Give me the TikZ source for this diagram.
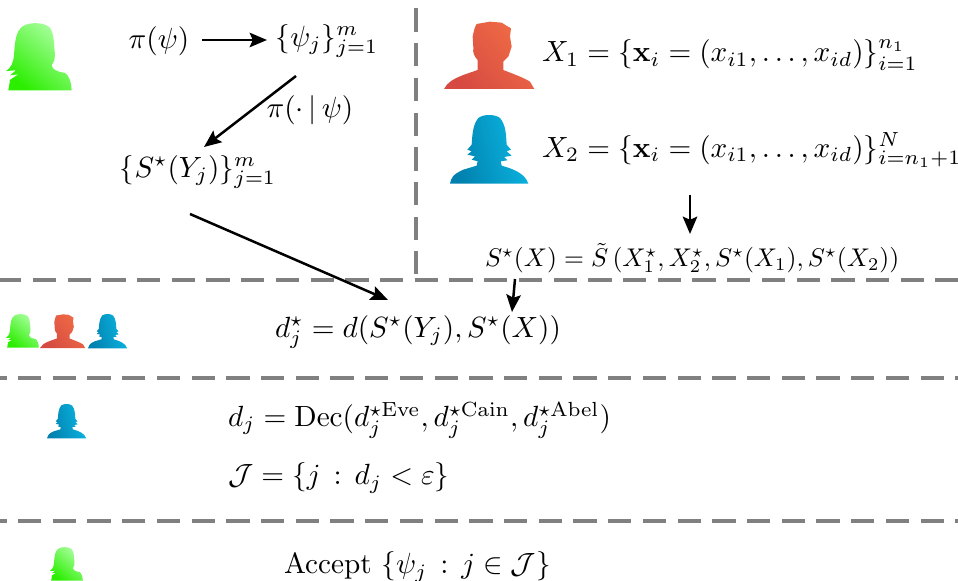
\documentclass[tikz,border=0pt]{standalone}
\usetikzlibrary{arrows.meta,calc}
\usepackage{amssymb}
\newcommand{\pathgreen}{(7,202) -- (12,172) -- (32,164) -- (10,172) -- (37,154) -- (12,157) -- (30,142) -- (0,144) .. controls (15,135) and (22,120) .. (24,95) .. controls (27,60) and (28,25) .. (50,10) .. controls (70,-3) and (110,-3) .. (130,12) .. controls (145,30) and (143,60) .. (147,95) -- (145,112) -- (137,127) .. controls (140,140) and (150,145) .. (177,150) .. controls (188,155) and (197,180) .. (197,202) -- cycle}
\newcommand{\pathorange}{(0,204) .. controls (10,185) and (25,175) .. (58,162) -- (101,147) -- (101,117) .. controls (90,105) and (86,95) .. (88,80) -- (86,47) .. controls (90,25) and (95,12) .. (98,9) -- (115,6) -- (138,2) -- (173,5) -- (184,12) -- (201,22) -- (198,47) -- (203,77) -- (193,107) -- (178,122) -- (178,147) .. controls (205,158) and (240,170) .. (258,182) -- (271,204) -- cycle}
\newcommand{\pathblue}{(0,206) .. controls (3,190) and (8,178) .. (40,164) -- (80,152) -- (83,139) -- (65,134) -- (75,124) -- (52,119) -- (65,109) -- (52,104) -- (65,89) .. controls (67,60) and (68,30) .. (85,9) .. controls (100,-3) and (135,-3) .. (150,9) .. controls (168,30) and (168,60) .. (170,89) -- (183,104) -- (170,109) -- (185,122) -- (162,126) -- (172,136) -- (152,139) -- (155,152) .. controls (190,162) and (225,175) .. (235,206) -- cycle}
\definecolor{oC1}{HTML}{F06C45}
\definecolor{oC2}{HTML}{D64A42}
\definecolor{bC1}{HTML}{0CB6E2}
\definecolor{bC2}{HTML}{0080AE}
\definecolor{sepC}{HTML}{808080}
\definecolor{gC1}{HTML}{ACFFA2}
\definecolor{gC2}{HTML}{2BEE00}
\tikzset{
  gfill/.style={left color=gC1, right color=gC2, shading angle=-40, draw=none},
  ofill/.style={left color=oC1, right color=oC2, shading angle=-50, draw=none},
  bfill/.style={left color=bC1, right color=bC2, shading angle=-75, draw=none},
  sep/.style={draw=sepC, line width=1.65pt, dash pattern=on 12.1pt off 5.95pt},
  arr/.style={-{Stealth[length=9pt,width=7.5pt,inset=1.6pt]}, line width=1.3pt},
  lab/.style={inner sep=0pt, outer sep=0pt, scale=1.52},
  lableft/.style={lab, anchor=west}
}
\newcommand{\personG}[3]{\begin{scope}[shift={(#1,#2)},x=#3*0.52pt,y=-#3*0.52pt]\shade[gfill] \pathgreen;\end{scope}}
\newcommand{\personO}[3]{\begin{scope}[shift={(#1,#2)},x=#3*0.52pt,y=-#3*0.52pt]\shade[ofill] \pathorange;\end{scope}}
\newcommand{\personB}[3]{\begin{scope}[shift={(#1,#2)},x=#3*0.52pt,y=-#3*0.52pt]\shade[bfill] \pathblue;\end{scope}}
\begin{document}
\begin{tikzpicture}[x=0.52pt,y=-0.52pt]
\useasboundingbox (0,0) rectangle (958,581);
% silhouettes
\personG{6}{23}{0.3333}
\personO{444}{21}{0.3333}
\personB{450}{115}{0.3333}
\personG{6}{314}{0.1667}
\personO{40}{314}{0.1667}
\personB{88}{314}{0.1667}
\personB{47}{404}{0.1667}
\personG{50}{547}{0.1667}
% separators
\coordinate (v1) at (416,8.5);
\coordinate (v2) at (416,274);
\coordinate (h1a) at (-1.8,280); \coordinate (h1b) at (958,280);
\coordinate (h2a) at (-16.7,378); \coordinate (h2b) at (958,378);
\coordinate (h3a) at (-16.7,521); \coordinate (h3b) at (958,521);
\draw[sep] (v1) -- (v2);
\draw[sep] (h1a) -- (h1b);
\draw[sep] (h2a) -- (h2b);
\draw[sep] (h3a) -- (h3b);
% labels
\node[lab] (pi) at (159,41) {$\pi(\psi)$};
\node[lab] (psi) at (327,41) {$\{\psi_j\}_{j=1}^m$};
\node[lab] (cond) at (310,110) {$\pi(\cdot\,|\,\psi)$};
\node[lab] (sy) at (198,172) {$\{S^\star(Y_j)\}_{j=1}^m$};
\node[lableft] (x1) at (542,55) {$X_1=\{\mathbf{x}_i=(x_{i1},\dots,x_{id})\}_{i=1}^{n_1}$};
\node[lableft] (x2) at (542,150) {$X_2=\{\mathbf{x}_i=(x_{i1},\dots,x_{id})\}_{i=n_1+1}^{N}$};
\node[lableft,scale=0.875] (sx) at (485,258) {$S^\star(X)=\tilde S\left(X_1^\star,X_2^\star,S^\star(X_1),S^\star(X_2)\right)$};
\node[lableft] (d) at (275,332) {$d_j^\star=d(S^\star(Y_j),S^\star(X))$};
\node[lableft] (dec) at (228,420) {$d_j=\mathrm{Dec}(d_j^{\star\mathrm{Eve}},d_j^{\star\mathrm{Cain}},d_j^{\star\mathrm{Abel}})$};
\node[lableft] (jset) at (228,478) {$\mathcal{J}=\{j\,:\,d_j<\varepsilon\}$};
\node[lableft] (acc) at (284,567) {Accept $\{\psi_j\,:\,j\in\mathcal{J}\}$};
% connectors
\draw[arr] ($(pi.center)+(43,-1)$) -- ($(psi.center)+(-60,-1)$);
\draw[arr] ($(psi.center)+(-31,35)$) -- ($(sy.center)+(6,-25)$);
\draw[arr] ($(sy.center)+(-8,42)$) -- ($(d.west)+(113,-32)$);
\draw[arr] ($(x2.west)+(148,45)$) -- ($(sx.west)+(205,-24)$);
\draw[arr] ($(sx.west)+(30,21)$) -- ($(d.west)+(237,-20)$);
\end{tikzpicture}
\end{document}
